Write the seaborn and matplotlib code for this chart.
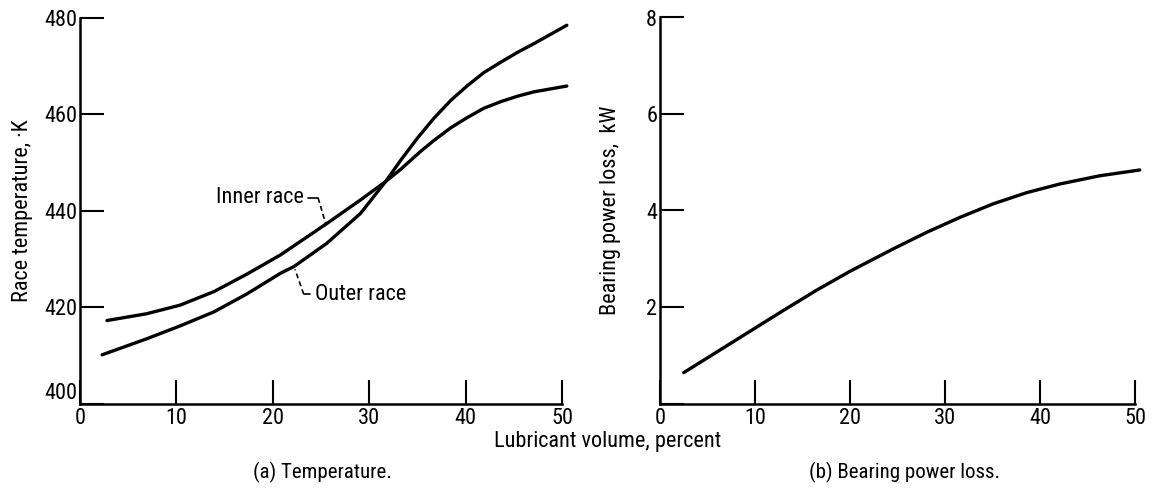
import matplotlib
matplotlib.use("Agg")
import matplotlib.pyplot as plt
import seaborn as sns
import pandas as pd
from matplotlib import font_manager

# ---- data ----
lub_inner = [2.8, 6.9, 10.4, 13.9, 17.3, 20.8, 25.6, 29.1, 31.7, 33.3, 35.3, 36.7, 38.5, 40.2, 41.9, 43.7, 45.4, 47.1, 50.5]
temp_inner = [417.3, 418.7, 420.5, 423.3, 426.9, 430.9, 437.4, 442.3, 446.1, 448.7, 452.3, 454.6, 457.3, 459.4, 461.3, 462.7, 463.8, 464.7, 465.9]

lub_outer = [2.3, 6.9, 10.4, 13.9, 17.3, 20.8, 22.2, 25.6, 29.1, 31.7, 33.3, 35.0, 36.7, 38.5, 40.2, 41.9, 43.7, 45.4, 47.1, 50.5]
temp_outer = [410.2, 413.5, 416.2, 419.1, 422.8, 427.1, 428.5, 433.3, 439.5, 446.1, 450.6, 455.1, 459.2, 463.0, 466.0, 468.7, 470.9, 472.9, 474.7, 478.5]

lub_power = [2.5, 6.0, 9.5, 13.0, 16.5, 20.0, 24.6, 28.1, 31.6, 35.1, 38.6, 42.1, 46.3, 50.5]
power_loss = [0.64, 1.07, 1.50, 1.93, 2.35, 2.74, 3.21, 3.55, 3.86, 4.14, 4.37, 4.55, 4.72, 4.84]

x_ticks = [0, 10, 20, 30, 40, 50]
temp_ticks = [400, 420, 440, 460, 480]
power_ticks = [0, 2, 4, 6, 8]
power_tick_labels = ["", "2", "4", "6", "8"]

sns.set_theme(style="ticks")
names = {f.name for f in font_manager.fontManager.ttflist}
fam = [n for n in ['Liberation Sans Narrow', 'DejaVu Sans Condensed', 'Roboto Condensed', 'DejaVu Sans'] if n in names]
plt.rcParams['font.family'] = fam + ['DejaVu Sans']
plt.rcParams['font.stretch'] = 'condensed'
plt.rcParams['text.color'] = 'black'
plt.rcParams['axes.labelcolor'] = 'black'
FS = 16
TFS = 16

df_in = pd.DataFrame({"x": lub_inner, "y": temp_inner})
df_out = pd.DataFrame({"x": lub_outer, "y": temp_outer})
df_p = pd.DataFrame({"x": lub_power, "y": power_loss})

fig = plt.figure(figsize=(11.53, 4.94), dpi=100)
ax1 = fig.add_axes([80/1153, 1-404/494, (562-80)/1153, (404-18)/494])
ax2 = fig.add_axes([660/1153, 1-403.5/494, (1135-660)/1153, (403.5-17.5)/494])

lw = 2.4
sns.lineplot(data=df_in, x="x", y="y", ax=ax1, color="black", lw=lw, sort=False, estimator=None)
sns.lineplot(data=df_out, x="x", y="y", ax=ax1, color="black", lw=lw, sort=False, estimator=None)
sns.lineplot(data=df_p, x="x", y="y", ax=ax2, color="black", lw=lw, sort=False, estimator=None)

for ax, yt, ylab, ylim in [(ax1, temp_ticks, [str(v) for v in temp_ticks], (400, 480)),
                           (ax2, power_ticks, power_tick_labels, (0, 8))]:
    ax.set_xlim(0, 50)
    ax.set_ylim(*ylim)
    ax.set_xticks(x_ticks)
    ax.set_yticks(yt)
    ax.set_xticklabels([str(v) for v in x_ticks])
    ax.set_yticklabels(ylab)
    for s in ["top", "right"]:
        ax.spines[s].set_visible(False)
    for s in ["left", "bottom"]:
        ax.spines[s].set_linewidth(1.8)
        ax.spines[s].set_color("black")
    ax.tick_params(axis="x", direction="in", length=17, width=1.5, pad=3,
                   labelsize=TFS, colors="black")
    ax.tick_params(axis="y", direction="in", length=17, width=1.5, pad=2,
                   labelsize=TFS, colors="black")
    ax.set_xlabel("")
    ax.set_ylabel("")
    for ln in ax.lines:
        ln.set_clip_on(False)

# lift the bottom y label of the left panel so it sits above the axis corner
ax1.get_yticklabels()[0].set_verticalalignment("bottom")

ax1.set_ylabel("Race temperature, ·K", fontsize=FS, labelpad=8)
ax2.set_ylabel("Bearing power loss,  kW", fontsize=FS, labelpad=18)

# curve labels with leader lines
ax1.text(23.2, 442.9, "Inner race", fontsize=FS, ha="right", va="center")
ax1.plot([23.7, 24.7], [442.7, 442.7], color="black", lw=1.2)
ax1.plot([24.7, 25.5], [442.7, 437.3], color="black", lw=1.2, ls=(0, (3, 2)))
ax1.text(24.4, 422.6, "Outer race", fontsize=FS, ha="left", va="center")
ax1.plot([23.2, 23.9], [422.8, 422.8], color="black", lw=1.2)
ax1.plot([23.2, 22.3], [422.8, 427.9], color="black", lw=1.2, ls=(0, (3, 2)))

fig.text(608/1153, 1-441/494, "Lubricant volume, percent", fontsize=FS, ha="center", va="center")
fig.text(322/1153, 1-472/494, "(a) Temperature.", fontsize=FS-1, ha="center", va="center")
fig.text(905/1153, 1-472/494, "(b) Bearing power loss.", fontsize=FS-1, ha="center", va="center")

fig.savefig("out.png", dpi=100, facecolor="white")
